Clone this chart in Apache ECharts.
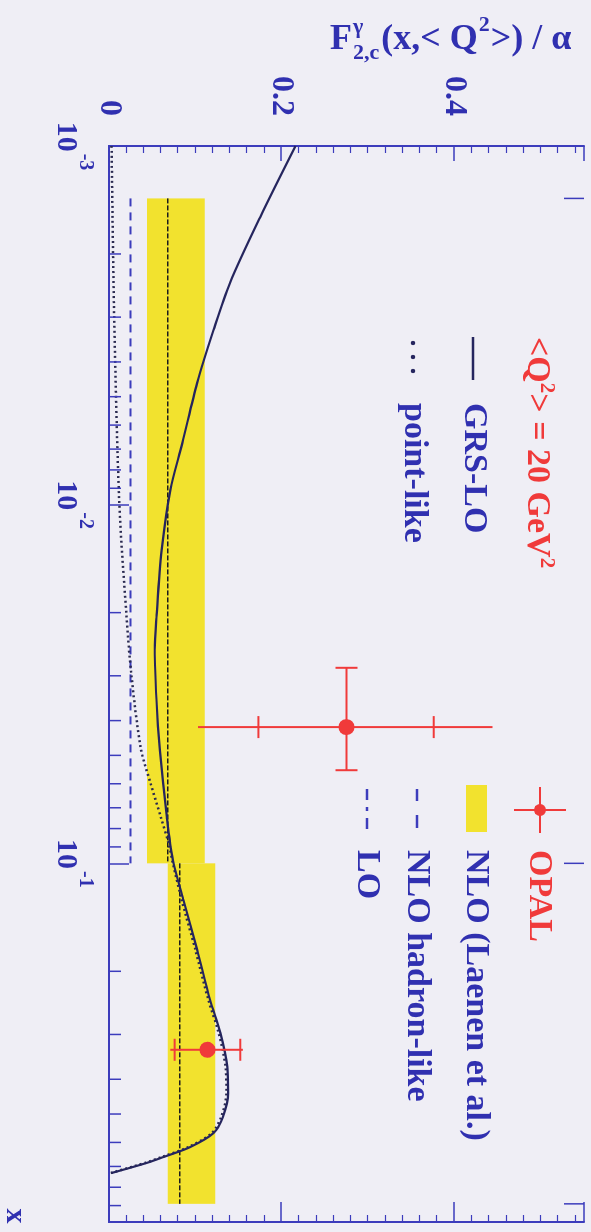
<!DOCTYPE html>
<html><head><meta charset="utf-8">
<script src="https://cdn.jsdelivr.net/npm/echarts@6/dist/echarts.min.js"></script>
<style>
html,body{margin:0;padding:0;background:#efeef5;width:591px;height:1232px;overflow:hidden;}
#wrap{position:absolute;left:0;top:0;width:1232px;height:591px;transform-origin:0 0;transform:translate(591px,0) rotate(90deg);}
#chart{width:1232px;height:591px;}
</style></head><body><div id="wrap"><div id="chart"></div></div>
<script>
// ---------------- data ----------------
const grsX = [0.001, 0.00158, 0.00241, 0.00326, 0.00458, 0.00673, 0.0091, 0.0134, 0.0206, 0.0254, 0.035, 0.0483, 0.0743, 0.098, 0.126, 0.174, 0.24, 0.297, 0.37, 0.437, 0.509, 0.565, 0.618, 0.659, 0.684, 0.73];
const grsF = [0.216, 0.175, 0.140, 0.121, 0.102, 0.085, 0.071, 0.061, 0.055, 0.053, 0.055, 0.059, 0.067, 0.074, 0.086, 0.102, 0.117, 0.129, 0.137, 0.138, 0.132, 0.121, 0.094, 0.063, 0.044, 0.003];
const pointX = [0.001, 0.003, 0.01, 0.02, 0.03, 0.048, 0.0597, 0.0743, 0.088, 0.1, 0.126, 0.174, 0.24, 0.297, 0.37, 0.437, 0.509, 0.565, 0.618, 0.659, 0.684, 0.73];
const pointF = [0.003, 0.006, 0.012, 0.020, 0.026, 0.037, 0.048, 0.060, 0.069, 0.074, 0.084, 0.100, 0.115, 0.127, 0.135, 0.136, 0.130, 0.119, 0.092, 0.061, 0.042, 0.002];
const nloBinLo = [0.0014, 0.1];
const nloBinHi = [0.1, 0.89];
const nloFLo = [0.044, 0.068];
const nloFHi = [0.111, 0.123];
const loF = [0.068, 0.082];
const hadronBinLo = [0.0014];
const hadronBinHi = [0.1];
const hadronF = [0.025];
const opalX = [0.0417, 0.331];
const opalF = [0.275, 0.114];
const opalStatLo = [0.173, 0.076];
const opalStatHi = [0.376, 0.152];
const opalTotLo = [0.103, 0.071];
const opalTotHi = [0.444, 0.155];
const opalXLo = [0.0285, 0.331];
const opalXHi = [0.055, 0.331];
const binEdges = [0.0014, 0.1, 0.89];
const minorMult = [2, 3, 4, 5, 6, 7, 8, 9];
const decades = [0.001, 0.01, 0.1];
const fTicks = [0, 0.2, 0.4];

// ---------------- styles ----------------
const BLUE = '#3c3cbc', TXT = '#3030b0', RED = '#f03a3a', YEL = '#f2e22e', NAVY = '#25255e';
const SERIF = '"Liberation Serif", "DejaVu Serif", serif';

const chart = echarts.init(document.getElementById('chart'), null, {renderer: 'canvas'});

const minorTickVals = [];
decades.forEach(d => minorMult.forEach(m => minorTickVals.push(m * d)));

function lineEl(x1, y1, x2, y2, stroke, w, dash) {
  return {type: 'line', shape: {x1, y1, x2, y2}, style: {stroke, lineWidth: w, lineDash: dash || null}};
}

// measure helper for the y title
const mctx = document.createElement('canvas').getContext('2d');
function tw(t, size) { mctx.font = 'bold ' + size + 'px ' + SERIF; return mctx.measureText(t).width; }
function buildTitle() {
  const B = 36, S = 22;
  const kids = [];
  let x = 0;
  const add = (t, size, dy) => { kids.push({type: 'text', x, y: dy, style: {text: t, font: 'bold ' + size + 'px ' + SERIF, fill: TXT, verticalAlign: 'top', textVerticalAlign: 'top'}}); };
  add('F', B, 0); x += tw('F', B) + 1;
  add('γ', S, -6); add('2,c', S, 20); x += Math.max(tw('γ', S), tw('2,c', S)) + 2;
  add('(x,< Q', B, 0); x += tw('(x,< Q', B) + 1;
  add('2', S, -8); x += tw('2', S) + 1;
  add('>) / α', B, 0);
  return {type: 'group', x: 22, y: 261, rotation: Math.PI / 2, children: kids, silent: true};
}

const legendG = [];
const LF = 'bold 34px ' + SERIF;
// left column (top in the reference)
legendG.push({type: 'text', x: 337, y: 54, style: {text: '<Q{s|2}> = 20 GeV{s|2}', font: LF, fill: RED, textVerticalAlign: 'middle', rich: {s: {fontSize: 21, fontWeight: 'bold', fontFamily: SERIF, fill: RED, padding: [0, 0, 18, 0]}}}});
legendG.push(lineEl(337, 118, 380, 118, NAVY, 2.5));
legendG.push({type: 'text', x: 403, y: 117, style: {text: 'GRS-LO', font: LF, fill: TXT, textVerticalAlign: 'middle'}});
[343, 357, 371].forEach(u => legendG.push({type: 'circle', shape: {cx: u, cy: 178, r: 2.2}, style: {fill: NAVY}}));
legendG.push({type: 'text', x: 403, y: 177, style: {text: 'point-like', font: LF, fill: TXT, textVerticalAlign: 'middle'}});
// right column
legendG.push(lineEl(787, 51, 833, 51, RED, 2));
legendG.push(lineEl(810, 25, 810, 77, RED, 2));
legendG.push({type: 'circle', shape: {cx: 810, cy: 51, r: 6}, style: {fill: RED}});
legendG.push({type: 'text', x: 850, y: 52, style: {text: 'OPAL', font: LF, fill: RED, textVerticalAlign: 'middle'}});
legendG.push({type: 'rect', shape: {x: 785, y: 104, width: 47, height: 21}, style: {fill: YEL}});
legendG.push({type: 'text', x: 850, y: 115, style: {text: 'NLO (Laenen et al.)', font: LF, fill: TXT, textVerticalAlign: 'middle'}});
legendG.push(lineEl(789, 174, 801, 174, BLUE, 2.5));
legendG.push(lineEl(815, 174, 828, 174, BLUE, 2.5));
legendG.push({type: 'text', x: 850, y: 174, style: {text: 'NLO hadron-like', font: LF, fill: TXT, textVerticalAlign: 'middle'}});
legendG.push(lineEl(789, 224, 800, 224, BLUE, 2.5));
legendG.push(lineEl(807, 224, 811, 224, BLUE, 2.5));
legendG.push(lineEl(818, 224, 829, 224, BLUE, 2.5));
legendG.push({type: 'text', x: 850, y: 224, style: {text: 'LO', font: LF, fill: TXT, textVerticalAlign: 'middle'}});
// x axis name
legendG.push({type: 'text', x: 1216, y: 576, style: {text: 'x', font: 'bold 30px ' + SERIF, fill: TXT, textAlign: 'center', textVerticalAlign: 'middle'}});
legendG.push(buildTitle());

const xLabelFmt = v => {
  const e = Math.round(Math.log10(v));
  if (e >= 0) return '';
  return '{b|10}{s|' + e + '}';
};

const option = {
  backgroundColor: '#efeef5',
  animation: false,
  grid: {left: 146, right: 10, top: 7, bottom: 109},
  xAxis: [
    {type: 'log', logBase: 10, min: 0.001, max: 1, splitNumber: 3, position: 'bottom',
     axisLine: {lineStyle: {color: BLUE, width: 2}},
     axisTick: {inside: true, length: 20, lineStyle: {color: BLUE, width: 1.5}},
     splitLine: {show: false},
     axisLabel: {margin: 14, formatter: xLabelFmt, color: TXT,
       rich: {b: {fontSize: 30, fontWeight: 'bold', fontFamily: SERIF, color: TXT, lineHeight: 44, verticalAlign: 'bottom'},
              s: {fontSize: 20, fontWeight: 'bold', fontFamily: SERIF, color: TXT, verticalAlign: 'top', padding: [0, 0, 0, 2]}}}},
    {type: 'log', logBase: 10, min: 0.001, max: 1, position: 'top',
     axisLine: {show: true, lineStyle: {color: BLUE, width: 2}}, axisTick: {show: false}, axisLabel: {show: false}, splitLine: {show: false}}
  ],
  yAxis: [
    {type: 'value', min: 0, max: 0.55, interval: 0.2, position: 'left',
     axisLine: {show: true, lineStyle: {color: BLUE, width: 2}},
     axisTick: {show: true, inside: true, length: 15, lineStyle: {color: BLUE, width: 1.5}},
     minorTick: {show: true, splitNumber: 10, length: 7, lineStyle: {color: BLUE, width: 1.2}},
     splitLine: {show: false},
     axisLabel: {margin: 30, color: TXT, fontSize: 32, fontWeight: 'bold', fontFamily: SERIF,
       formatter: v => (fTicks.some(t => Math.abs(t - v) < 1e-6) ? String(+v.toFixed(1)) : '')}},
    {type: 'value', min: 0, max: 0.55, interval: 0.2, position: 'right',
     axisLine: {show: true, lineStyle: {color: BLUE, width: 2}},
     axisTick: {show: true, inside: true, length: 20, lineStyle: {color: BLUE, width: 1.5}},
     minorTick: {show: true, splitNumber: 10, length: 7, lineStyle: {color: BLUE, width: 1.2}},
     splitLine: {show: false}, axisLabel: {show: false}}
  ],
  graphic: legendG,
  series: [
    {type: 'custom', name: 'NLO (Laenen et al.)', z: 1,
     data: nloBinLo.map((x, i) => [x, nloBinHi[i], nloFLo[i], nloFHi[i]]),
     encode: {x: [0, 1], y: [2, 3]},
     renderItem: (p, api) => {
       const a = api.coord([api.value(0), api.value(3)]);
       const b = api.coord([api.value(1), api.value(2)]);
       return {type: 'rect', shape: {x: a[0], y: a[1], width: b[0] - a[0], height: b[1] - a[1]}, style: {fill: YEL}};
     }},
    {type: 'custom', name: 'LO', z: 3,
     data: nloBinLo.map((x, i) => [x, nloBinHi[i], loF[i]]),
     encode: {x: [0, 1], y: 2},
     renderItem: (p, api) => {
       const a = api.coord([api.value(0), api.value(2)]);
       const b = api.coord([api.value(1), api.value(2)]);
       return lineEl(a[0], a[1], b[0], b[1], '#1c1c1c', 1.6, [5, 2]);
     }},
    {type: 'custom', name: 'NLO hadron-like', z: 3,
     data: hadronBinLo.map((x, i) => [x, hadronBinHi[i], hadronF[i]]),
     encode: {x: [0, 1], y: 2},
     renderItem: (p, api) => {
       const a = api.coord([api.value(0), api.value(2)]);
       const b = api.coord([api.value(1), api.value(2)]);
       return lineEl(a[0], a[1], b[0], b[1], BLUE, 2, [8, 6]);
     }},
    {type: 'line', name: 'point-like', z: 4, xAxisIndex: 0, yAxisIndex: 0, smooth: 0.3, showSymbol: false,
     data: pointX.map((x, i) => [x, pointF[i]]),
     lineStyle: {color: '#2a2a50', width: 2.5, type: [2, 3]}},
    {type: 'line', name: 'GRS-LO', z: 5, smooth: 0.3, showSymbol: false,
     data: grsX.map((x, i) => [x, grsF[i]]),
     lineStyle: {color: NAVY, width: 2.2}},
    {type: 'custom', name: 'minor x ticks', z: 6, silent: true,
     data: minorTickVals.map(v => [v, 0]),
     renderItem: (p, api) => {
       const a = api.coord([api.value(0), 0]);
       return lineEl(a[0], a[1], a[0], a[1] - 12, BLUE, 1.5);
     }},
    {type: 'custom', name: 'bin edges', z: 6, silent: true,
     data: binEdges.map(v => [v, 0.55]),
     renderItem: (p, api) => {
       const a = api.coord([api.value(0), 0.55]);
       return lineEl(a[0], a[1], a[0], a[1] + 20, BLUE, 1.5);
     }},
    {type: 'custom', name: 'OPAL', z: 10,
     data: opalX.map((x, i) => [x, opalF[i], opalStatLo[i], opalStatHi[i], opalTotLo[i], opalTotHi[i], opalXLo[i], opalXHi[i]]),
     encode: {x: 0, y: 1},
     renderItem: (p, api) => {
       const x = api.value(0), f = api.value(1);
       const c = api.coord([x, f]);
       const tl = api.coord([x, api.value(4)]), th = api.coord([x, api.value(5)]);
       const sl = api.coord([x, api.value(2)]), sh = api.coord([x, api.value(3)]);
       const kids = [
         lineEl(tl[0], tl[1], th[0], th[1], RED, 2),
         lineEl(sl[0] - 11, sl[1], sl[0] + 11, sl[1], RED, 2),
         lineEl(sh[0] - 11, sh[1], sh[0] + 11, sh[1], RED, 2)
       ];
       const xl = api.coord([api.value(6), f]), xh = api.coord([api.value(7), f]);
       if (xh[0] - xl[0] > 2) {
         kids.push(lineEl(xl[0], xl[1], xh[0], xh[1], RED, 2));
         kids.push(lineEl(xl[0], xl[1] - 11, xl[0], xl[1] + 11, RED, 2));
         kids.push(lineEl(xh[0], xh[1] - 11, xh[0], xh[1] + 11, RED, 2));
       }
       kids.push({type: 'circle', shape: {cx: c[0], cy: c[1], r: 8}, style: {fill: RED}});
       return {type: 'group', children: kids};
     }}
  ]
};
chart.setOption(option);
</script></body></html>
